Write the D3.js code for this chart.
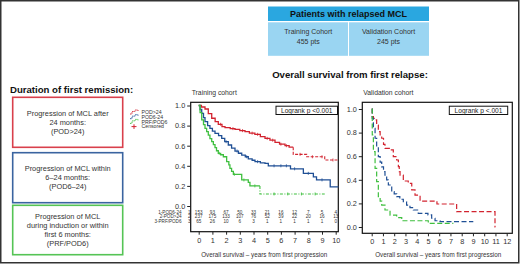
<html>
<head>
<meta charset="utf-8">
<title>Overall survival from first relapse</title>
<script src="https://d3js.org/d3.v7.min.js"></script>
<style>
  body { margin: 0; background: #fff; }
  text { font-family: "Liberation Sans", Arial, sans-serif; }
</style>
</head>
<body>
<svg width="520" height="266"></svg>
<script>
// ---- data ----
var groups = ["POD>24", "POD6-24", "PRF/POD6"];
var colors = ["#d2232f", "#1f4f95", "#3fbf3f"];

// training cohort curves (years, survival)
var trRedT  = [0, 0.2, 0.46, 0.7, 0.95, 1.2, 1.43, 1.7, 1.92, 2.3, 2.65, 3.0, 3.38, 3.7, 4.1, 4.5, 4.84, 5.2, 5.57, 5.9, 6.3, 6.6, 6.9, 7.88, 9.2, 10.2];
var trRedS  = [1, 0.985, 0.965, 0.92, 0.873, 0.84, 0.813, 0.79, 0.78, 0.77, 0.763, 0.75, 0.74, 0.725, 0.713, 0.69, 0.673, 0.655, 0.634, 0.615, 0.60, 0.585, 0.514, 0.49, 0.458, 0.458];
var trBlueT = [0, 0.1, 0.22, 0.35, 0.46, 0.65, 0.82, 1.0, 1.19, 1.45, 1.68, 1.9, 2.16, 2.4, 2.65, 2.9, 3.14, 3.4, 3.62, 3.9, 4.11, 4.5, 4.84, 5.08, 6.7, 7.64, 8.37, 8.6, 9.6, 10.2];
var trBlueS = [1, 0.96, 0.922, 0.88, 0.839, 0.80, 0.773, 0.745, 0.723, 0.70, 0.673, 0.64, 0.607, 0.575, 0.547, 0.525, 0.507, 0.49, 0.468, 0.455, 0.441, 0.43, 0.425, 0.40, 0.37, 0.325, 0.29, 0.26, 0.19, 0.19];
var trGrnT  = [0, 0.1, 0.22, 0.35, 0.46, 0.58, 0.7, 0.82, 0.95, 1.07, 1.19, 1.3, 1.43, 1.6, 1.8, 2.04, 2.2, 2.28, 2.4, 2.53, 3.14, 3.62, 3.74, 4.47, 9.2];
var trGrnS  = [1, 0.93, 0.856, 0.81, 0.773, 0.74, 0.706, 0.67, 0.64, 0.61, 0.58, 0.55, 0.524, 0.51, 0.49, 0.441, 0.41, 0.375, 0.345, 0.315, 0.259, 0.236, 0.20, 0.12, 0.12];
// time after which the training curve is drawn broken
var trBreak = [6.9, 99, 4.47];

// validation cohort curves
var vaRedT  = [0, 0.05, 0.15, 0.3, 0.44, 0.59, 0.75, 0.89, 1.05, 1.18, 1.63, 1.92, 2.22, 2.37, 2.45, 2.52, 2.81, 3.25, 3.56, 3.85, 4.3, 5.8, 7.55, 10.96, 11.0];
var vaRedS  = [1, 0.935, 0.92, 0.907, 0.864, 0.808, 0.78, 0.752, 0.70, 0.667, 0.653, 0.596, 0.568, 0.512, 0.47, 0.44, 0.39, 0.37, 0.314, 0.27, 0.22, 0.195, 0.13, 0.0, 0.0];
var vaBlueT = [0, 0.05, 0.15, 0.3, 0.44, 0.59, 0.75, 0.89, 1.05, 1.18, 1.33, 1.48, 1.78, 2.0, 2.22, 2.5, 2.81, 3.1, 3.4, 3.7, 4.14, 5.0, 5.33, 5.63, 6.07, 9.03];
var vaBlueS = [1, 0.92, 0.836, 0.752, 0.68, 0.596, 0.55, 0.51, 0.47, 0.44, 0.40, 0.356, 0.30, 0.28, 0.257, 0.235, 0.214, 0.186, 0.165, 0.144, 0.116, 0.102, 0.074, 0.053, 0.045, 0.045];
var vaGrnT  = [0, 0.05, 0.15, 0.3, 0.44, 0.59, 0.75, 0.89, 1.18, 1.63, 2.22, 2.67, 5.03, 7.26];
var vaGrnS  = [1, 0.78, 0.638, 0.497, 0.384, 0.257, 0.22, 0.186, 0.144, 0.10, 0.08, 0.053, 0.03, 0.03];

// censoring marks (training)
var trRedCens  = [1.6, 2.5, 3.2, 3.9, 4.3, 5.0, 5.4, 6.0, 6.4, 7.4, 8.3, 9.0, 9.8];
var trBlueCens = [2.0, 2.8, 3.5, 4.3, 5.5, 6.0, 6.4, 7.0, 8.0, 9.0];
var trGrnCens  = [1.5, 2.6, 3.3, 4.1, 5.5, 6.5, 7.5, 8.5];

// at-risk table (training)
var riskLabels = ["1-POD6-24", "2-POD>24", "3-PRF/POD6"];
var riskPOD624 = [153, 93, 67, 50, 33, 21, 16, 12, 7, 5, 4];
var riskPOD24  = [237, 175, 133, 107, 76, 52, 39, 22, 20, 16, 13];
var riskPRF    = [65, 26, 10, 6, 3, 1, 1, 1, 1, 1, 0];

var yTicks = [0, 0.2, 0.4, 0.6, 0.8, 1.0];
var trXTicks = d3.range(0, 11);
var vaXTicks = d3.range(0, 13);

var remissionBoxes = [
  ["Progression of MCL after", "24 months:", "(POD>24)"],
  ["Progression of MCL within", "6\u201324 months:", "(POD6\u201324)"],
  ["Progression of MCL", "during induction or within", "first 6 months:", "(PRF/POD6)"]
];
var boxColors = ["#d9404c", "#3a64a0", "#55c455"];

// ---- drawing ----
var svg = d3.select("svg");

// outer frame
svg.append("rect").attr("x", 0.75).attr("y", 0.75).attr("width", 518).attr("height", 262)
  .attr("fill", "none").attr("stroke", "#333").attr("stroke-width", 1.5);

// header table
var hdr = svg.append("g");
hdr.append("rect").attr("x", 268).attr("y", 6.5).attr("width", 161).attr("height", 14.5).attr("fill", "#2aa7e0");
hdr.append("rect").attr("x", 268).attr("y", 22.3).attr("width", 80).attr("height", 33.5).attr("fill", "#9ad5f2");
hdr.append("rect").attr("x", 349).attr("y", 22.3).attr("width", 80).attr("height", 33.5).attr("fill", "#9ad5f2");
hdr.append("text").attr("x", 348.5).attr("y", 17.2).attr("text-anchor", "middle")
  .attr("font-size", 9).attr("font-weight", "bold").attr("fill", "#111").text("Patients with relapsed MCL");
[["Training Cohort", "455 pts", 308.3], ["Validation Cohort", "245 pts", 388.5]].forEach(function(c) {
  hdr.append("text").attr("x", c[2]).attr("y", 34).attr("text-anchor", "middle").attr("font-size", 7).attr("fill", "#333").text(c[0]);
  hdr.append("text").attr("x", c[2]).attr("y", 44).attr("text-anchor", "middle").attr("font-size", 7).attr("fill", "#333").text(c[1]);
});

// left remission boxes
svg.append("text").attr("x", 10).attr("y", 92.5).attr("font-size", 9.6).attr("font-weight", "bold")
  .attr("fill", "#111").text("Duration of first remission:");
var boxTop = [97.3, 152.7, 205.3], boxH = [50, 50, 49.4];
remissionBoxes.forEach(function(lines, i) {
  svg.append("rect").attr("x", 12.7).attr("y", boxTop[i]).attr("width", 110).attr("height", boxH[i])
    .attr("fill", "none").attr("stroke", boxColors[i]).attr("stroke-width", 1.6);
  var n = lines.length, gap = 9.1;
  var mid = boxTop[i] + boxH[i] / 2;
  lines.forEach(function(l, j) {
    svg.append("text").attr("x", 67.7).attr("y", mid + (j - (n - 1) / 2) * gap + 2.6)
      .attr("text-anchor", "middle").attr("font-size", 7.4).attr("fill", "#333").text(l);
  });
});

// main title
svg.append("text").attr("x", 350).attr("y", 77.5).attr("text-anchor", "middle").attr("font-size", 9.6)
  .attr("font-weight", "bold").attr("fill", "#111").text("Overall survival from first relapse:");

function drawPanel(opt) {
  var g = svg.append("g");
  var x = d3.scaleLinear().domain(opt.xDomain).range(opt.xRange);
  var y = d3.scaleLinear().domain([0, 1]).range(opt.yRange);

  g.append("text").attr("x", opt.frame[0] + 1).attr("y", 94.5).attr("font-size", 6.8).attr("fill", "#333").text(opt.title);

  g.append("rect").attr("x", opt.frame[0]).attr("y", opt.frame[1])
    .attr("width", opt.frame[2] - opt.frame[0]).attr("height", opt.frame[3] - opt.frame[1])
    .attr("fill", "none").attr("stroke", "#111").attr("stroke-width", 1.2);

  var ya = d3.axisLeft(y).tickValues(yTicks).tickFormat(d3.format(".1f")).tickSize(3.5).tickPadding(2);
  var yg = g.append("g").attr("transform", "translate(" + opt.frame[0] + ",0)").call(ya);
  yg.select(".domain").remove();
  yg.selectAll("text").attr("font-size", 7.3).attr("fill", "#333").style("font-family", "Liberation Sans, Arial");
  yg.selectAll("line").attr("stroke", "#222");

  var xa = d3.axisBottom(x).tickValues(opt.xTicks).tickFormat(d3.format("d")).tickSize(3).tickPadding(3);
  var xg = g.append("g").attr("transform", "translate(0," + opt.frame[3] + ")").call(xa);
  xg.select(".domain").remove();
  xg.selectAll("text").attr("font-size", 7.3).attr("fill", "#333").style("font-family", "Liberation Sans, Arial");
  xg.selectAll("line").attr("stroke", "#222");

  g.append("text").attr("x", (x(opt.xDomain[0]) + x(opt.xDomain[1])) / 2 + opt.titleShift).attr("y", 256.8)
    .attr("text-anchor", "middle").attr("font-size", 7.2).attr("fill", "#333")
    .attr("textLength", 126).attr("lengthAdjust", "spacingAndGlyphs")
    .text("Overall survival \u2013 years from first progression");

  // logrank box
  g.append("rect").attr("x", opt.logBox[0]).attr("y", 106.2).attr("width", opt.logBox[1]).attr("height", 8.3)
    .attr("fill", "#fff").attr("stroke", "#111").attr("stroke-width", 1);
  g.append("text").attr("x", opt.logBox[0] + opt.logBox[1] / 2).attr("y", 112.8).attr("text-anchor", "middle")
    .attr("font-size", 6.6).attr("fill", "#222").text(opt.logText);

  var line = d3.line().x(function(d) { return x(d[0]); }).y(function(d) { return y(d[1]); }).curve(d3.curveStepAfter);

  opt.curves.forEach(function(c, i) {
    var pts = d3.zip(c.t, c.s);
    var brk = opt.breaks ? opt.breaks[i] : -1;
    if (brk < 0) {
      g.append("path").attr("d", line(pts)).attr("fill", "none").attr("stroke", colors[i])
        .attr("stroke-width", 1.2).attr("stroke-dasharray", "5,2.5");
    } else {
      var a = pts.filter(function(p) { return p[0] < brk; });
      var b = pts.filter(function(p) { return p[0] >= brk; });
      if (b.length) a.push([brk, a[a.length - 1][1]]);
      g.append("path").attr("d", line(a)).attr("fill", "none").attr("stroke", colors[i]).attr("stroke-width", 1.3);
      if (b.length) {
        b.unshift(a[a.length - 1]);
        g.append("path").attr("d", line(b)).attr("fill", "none").attr("stroke", colors[i])
          .attr("stroke-width", 1.1).attr("stroke-dasharray", i === 2 ? "3,1.5,1,1.5" : "3,1.5");
      }
    }
    if (c.cens) {
      var step = function(tt) {
        var v = c.s[0];
        for (var k = 0; k < c.t.length; k++) { if (c.t[k] <= tt) v = c.s[k]; }
        return v;
      };
      c.cens.forEach(function(tt) {
        g.append("line").attr("x1", x(tt)).attr("x2", x(tt)).attr("y1", y(step(tt)) - 1.5).attr("y2", y(step(tt)) + 1.5)
          .attr("stroke", colors[i]).attr("stroke-width", 0.8);
      });
    }
  });
  return {x: x, y: y, g: g};
}

var tr = drawPanel({
  title: "Training cohort",
  xDomain: [0, 10], xRange: [198.7, 335.7], yRange: [206, 105.5],
  frame: [190.7, 102.3, 338.3, 231.7], xTicks: trXTicks, titleShift: -3,
  logBox: [276, 61.5], logText: "Logrank p <0.001",
  breaks: trBreak,
  curves: [
    {t: trRedT, s: trRedS, cens: trRedCens},
    {t: trBlueT, s: trBlueS, cens: trBlueCens},
    {t: trGrnT, s: trGrnS, cens: trGrnCens}
  ]
});

drawPanel({
  title: "Validation cohort",
  xDomain: [0, 12], xRange: [371.7, 506.7], yRange: [227, 109],
  frame: [362.3, 102.3, 512.3, 233.3], xTicks: vaXTicks, titleShift: -1,
  logBox: [449.3, 58.4], logText: "Logrank p <.001",
  curves: [
    {t: vaRedT, s: vaRedS},
    {t: vaBlueT, s: vaBlueS},
    {t: vaGrnT, s: vaGrnS}
  ]
});

// at-risk table inside the training frame
var riskRows = [riskPOD624, riskPOD24, riskPRF];
var rowY = [214.3, 218.4, 222.5];
riskRows.forEach(function(row, r) {
  svg.append("text").attr("x", 181.5).attr("y", rowY[r]).attr("text-anchor", "end")
    .attr("font-size", 4.6).attr("fill", "#333").text(riskLabels[r]);
  svg.append("text").attr("x", 189.3).attr("y", rowY[r]).attr("text-anchor", "middle")
    .attr("font-size", 4.6).attr("fill", "#333").text(r + 1);
  row.forEach(function(v, k) {
    svg.append("text").attr("x", tr.x(k)).attr("y", rowY[r]).attr("text-anchor", "middle")
      .attr("font-size", 4.6).attr("fill", "#333").text(v);
  });
});

// legend
var leg = svg.append("g");
groups.forEach(function(name, i) {
  var yy = 112.5 + i * 4.7;
  leg.append("path").attr("d", "M130," + (yy + 1.5) + "h2v-2.5h3v-1.5h3v1.5")
    .attr("fill", "none").attr("stroke", colors[i]).attr("stroke-width", 0.9).attr("stroke-dasharray", "1.5,0.8");
  leg.append("text").attr("x", 141.5).attr("y", yy + 1.8).attr("font-size", 5.2).attr("fill", "#333").text(name);
});
var cy = 112.5 + 3 * 4.7;
leg.append("path").attr("d", "M131.5," + cy + "h5M134," + (cy - 2.3) + "v4.6")
  .attr("stroke", colors[0]).attr("stroke-width", 1);
leg.append("text").attr("x", 141.5).attr("y", cy + 1.8).attr("font-size", 5.2).attr("fill", "#333").text("Censored");
</script>
</body>
</html>
